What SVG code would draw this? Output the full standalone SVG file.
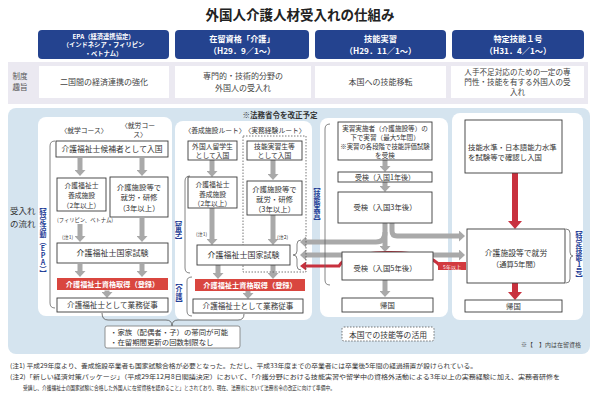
<svg xmlns="http://www.w3.org/2000/svg" width="600" height="400" viewBox="0 0 600 400">
<style>
text{font-family:"Noto Sans CJK JP","Noto Sans",sans-serif;fill:#333}
.hdr{fill:#24438f}
.ht{fill:#fff;font-weight:bold;text-anchor:middle}
.pbox{fill:#fff}
.box{fill:#fff;stroke:#3a3a3a;stroke-width:0.9}
.t{font-size:7.4px;text-anchor:middle}
.s{font-size:6.8px;text-anchor:middle}
.redbar{fill:#d9463f}
.rt{fill:#fff;font-weight:bold;font-size:7.2px;text-anchor:middle}
.ga{stroke:#a9a9a9;stroke-width:5;fill:none;marker-end:url(#gh)}
.ra{stroke:#c8313e;stroke-width:6;fill:none;marker-end:url(#rh)}
.ra2{stroke:#c8313e;stroke-width:3;fill:none;marker-end:url(#rh2)}
.br{stroke:#666;stroke-width:0.8;fill:none}
.vl{fill:#1e3d96;font-weight:bold;font-size:7px;writing-mode:tb;text-orientation:upright}
.note{font-size:6.2px}
</style>
<defs>
<marker id="gh" viewBox="0 0 6 11" markerWidth="6" markerHeight="11" refX="0" refY="5.5" orient="auto" markerUnits="userSpaceOnUse"><path d="M0,0 L6,5.5 L0,11 z" fill="#a9a9a9"/></marker>
<marker id="rh" viewBox="0 0 8 14" markerWidth="8" markerHeight="14" refX="0" refY="7" orient="auto" markerUnits="userSpaceOnUse"><path d="M0,0 L8,7 L0,14 z" fill="#c8313e"/></marker>
<marker id="rh2" viewBox="0 0 6 9" markerWidth="6" markerHeight="9" refX="0" refY="4.5" orient="auto" markerUnits="userSpaceOnUse"><path d="M0,0 L6,4.5 L0,9 z" fill="#c8313e"/></marker>
</defs>
<rect width="600" height="400" fill="#fff"/>
<text x="300" y="20" style="font-size:13.5px;font-weight:bold;text-anchor:middle;fill:#222">外国人介護人材受入れの仕組み</text>

<g id="hdr-epa"><rect class="hdr" x="38" y="30" width="131" height="29" rx="4"/>
<text class="ht" x="103.5" y="39" style="font-size:6.3px">EPA（経済連携協定）</text>
<text class="ht" x="103.5" y="47.3" style="font-size:6.3px">（インドネシア・フィリピン</text>
<text class="ht" x="103.5" y="55.6" style="font-size:6.3px">・ベトナム）</text></g>
<g id="hdr-kaigo"><rect class="hdr" x="175" y="30" width="134" height="29" rx="4"/>
<text class="ht" x="242" y="42" style="font-size:8.2px">在留資格「介護」</text>
<text class="ht" x="242" y="54" style="font-size:8.2px">（H29．9／1～）</text></g>
<g id="hdr-ginou"><rect class="hdr" x="315" y="30" width="131" height="29" rx="4"/>
<text class="ht" x="380.5" y="42" style="font-size:8.2px">技能実習</text>
<text class="ht" x="380.5" y="54" style="font-size:8.2px">（H29．11／1～）</text></g>
<g id="hdr-tokutei"><rect class="hdr" x="452" y="30" width="132" height="29" rx="4"/>
<text class="ht" x="518" y="42" style="font-size:8.2px">特定技能１号</text>
<text class="ht" x="518" y="54" style="font-size:8.2px">（H31．4／1～）</text></g>

<g id="purpose">
<rect x="8" y="62" width="580" height="42" fill="#ebe9f1"/>
<text x="20" y="79" style="font-size:7.5px;text-anchor:middle;fill:#555">制度</text>
<text x="20" y="90" style="font-size:7.5px;text-anchor:middle;fill:#555">趣旨</text>
<rect x="39" y="66" width="130" height="32" fill="#fff"/>
<rect x="175" y="66" width="136" height="32" fill="#fff"/>
<rect x="315" y="66" width="131" height="32" fill="#fff"/>
<rect x="451" y="66" width="133" height="32" fill="#fff"/>
<text x="104" y="85" style="font-size:8px;text-anchor:middle;fill:#444">二国間の経済連携の強化</text>
<text x="243" y="79" style="font-size:8px;text-anchor:middle;fill:#444">専門的・技術的分野の</text>
<text x="243" y="91" style="font-size:8px;text-anchor:middle;fill:#444">外国人の受入れ</text>
<text x="380.5" y="85" style="font-size:8px;text-anchor:middle;fill:#444">本国への技能移転</text>
<text x="517.5" y="75" style="font-size:7.6px;text-anchor:middle;fill:#444">人手不足対応のための一定の専</text>
<text x="517.5" y="85" style="font-size:7.6px;text-anchor:middle;fill:#444">門性・技能を有する外国人の受</text>
<text x="517.5" y="95" style="font-size:7.6px;text-anchor:middle;fill:#444">入れ</text>
</g>

<rect x="8" y="108" width="582" height="246" rx="8" fill="#d5e4ef"/>
<rect class="pbox" x="38" y="117" width="134" height="199" rx="8"/>
<rect class="pbox" x="175" y="121" width="137" height="199" rx="8"/>
<rect class="pbox" x="320" y="118" width="128" height="199" rx="8"/>
<rect class="pbox" x="452" y="113" width="131" height="207" rx="8"/>
<text x="10" y="214" style="font-size:8.5px">受入れ</text>
<text x="10" y="227" style="font-size:8.5px">の流れ</text>
<text x="280" y="118" style="font-size:7.5px;font-weight:bold;text-anchor:middle">※法務省令を改正予定</text>

<g id="connectors">
<path class="ga" d="M80,158 V170"/><path class="ga" d="M142,158 V170"/>
<path class="ga" d="M80,224 V236"/><path class="ga" d="M142,218 V236"/>
<path class="ga" d="M80,264 V271"/><path class="ga" d="M142,264 V271"/>
<path class="ga" d="M107,290.5 V292"/>
<path class="ga" d="M212,160 V171"/><path class="ga" d="M273,160 V174"/>
<path class="ga" d="M212,208 V239"/><path class="ga" d="M273,215 V239"/>
<path class="ga" d="M218,265 V273"/><path class="ga" d="M273,265 V273"/>
<path class="ga" d="M248,291 V293"/>
<path class="ga" d="M385,160 V166"/><path class="ga" d="M385,182 V186"/>
<path class="ga" d="M385,223 V246"/>
<path class="ga" d="M385,232 Q385,242 376,242 H306"/>
<path class="ga" d="M392,223 V231 Q392,236 397,236 H459"/>
<path class="ga" d="M342,255 H306"/>
<path class="ga" d="M433,255 H459"/>
<path class="ra2" d="M440,266 Q430,252 387,252.5 Q346,253 339,266 H306"/>
<path class="ga" d="M385,280 V291"/>
<path class="ra" d="M515,173 V221"/>
<path class="ra" d="M515,283 V292"/>
<path class="br" d="M55,141 Q50,141 50,146 V303 Q50,308 55,308"/>
<path class="br" d="M190,176 Q185,176 185,181 V268 Q185,273 190,273"/>
<path class="br" d="M192,277 Q187,277 187,281 V311 Q187,316 192,316"/>
<path class="br" d="M301,240 Q297,240 297,244 V251 Q297,255 293,255 Q297,255 297,259 V266 Q297,270 301,270"/>
<path class="br" d="M330,124 Q325,124 325,129 V280 Q325,285 330,285"/>
<path class="br" d="M566,229 Q570,229 570,233 V252 Q570,256 573,256 Q570,256 570,260 V279 Q570,283 566,283"/>
<path class="br" style="stroke:#555" d="M102,313 Q102,320 108,320 H166 Q172,320 172,326 Q172,320 178,320 H238 Q244,320 244,314"/>
</g>

<g id="epa">
<text class="s" x="84" y="133">〈就学コース〉</text>
<text class="s" x="138" y="128">〈就労コー</text>
<text class="s" x="140" y="137">ス〉</text>
<text class="vl" x="43" y="203">【特定活動（EPA）】</text>
</g>
<g id="epa-entry"><rect class="box" x="56" y="141" width="112" height="16"/><text class="t" x="112" y="152" style="font-size:7.8px">介護福祉士候補者として入国</text></g>
<g id="epa-school"><rect class="box" x="57" y="178" width="49" height="33"/>
<text class="s" x="81.5" y="188">介護福祉士</text><text class="s" x="81.5" y="198">養成施設</text><text class="s" x="81.5" y="208">（2年以上）</text></g>
<text x="57" y="222" style="font-size:5.3px">(フィリピン、ベトナム)</text>
<g id="epa-work"><rect class="box" x="110" y="177" width="58" height="40"/>
<text class="t" x="139" y="190">介護施設等で</text><text class="t" x="139" y="200">就労・研修</text><text class="t" x="139" y="211">（3年以上）</text></g>
<text x="62" y="239" style="font-size:5px">(注1)</text>
<g id="epa-exam"><rect class="box" x="57" y="243" width="111" height="20"/><text class="t" x="112.5" y="256" style="font-size:8px">介護福祉士国家試験</text></g>
<g id="epa-qual"><rect class="redbar" x="57" y="278" width="111" height="12"/><text class="rt" x="112.5" y="287">介護福祉士資格取得（登録）</text></g>
<g id="epa-job"><rect class="box" x="57" y="298" width="111" height="14"/><text class="t" x="112.5" y="308.3" style="font-size:7.6px">介護福祉士として業務従事</text></g>

<g id="kaigo">
<text class="s" x="215" y="133">〈養成施設ルート〉</text>
<text class="s" x="275" y="133">〈実務経験ルート〉</text>
<rect x="243" y="136" width="63" height="136" fill="none" stroke="#555" stroke-width="0.8" stroke-dasharray="1.5,1.5"/>
<text class="vl" x="178.5" y="216">【留学】</text>
<text class="vl" x="179" y="279">【介護】</text>
</g>
<g id="kaigo-entry1"><rect class="box" x="188" y="141" width="49" height="19"/>
<text class="s" x="212.5" y="148.6">外国人留学生</text><text class="s" x="212.5" y="157.6">として入国</text></g>
<g id="kaigo-entry2"><rect class="box" x="247" y="141" width="55" height="19"/>
<text class="s" x="274.5" y="148.6">技能実習生等</text><text class="s" x="274.5" y="157.6">として入国</text></g>
<g id="kaigo-school"><rect class="box" x="188" y="177" width="49" height="31"/>
<text class="s" x="212.5" y="187">介護福祉士</text><text class="s" x="212.5" y="196.5">養成施設</text><text class="s" x="212.5" y="206">（2年以上）</text></g>
<g id="kaigo-work"><rect class="box" x="247" y="181" width="55" height="34"/>
<text class="t" x="274.5" y="192">介護施設等で</text><text class="t" x="274.5" y="201.5">就労・研修</text><text class="t" x="274.5" y="211.5">（3年以上）</text></g>
<text x="196" y="236" style="font-size:5px">(注1)</text>
<text x="277" y="239" style="font-size:5px">(注2)</text>
<g id="kaigo-exam"><rect class="box" x="197" y="245" width="93" height="20"/><text class="t" x="243.5" y="258" style="font-size:8px">介護福祉士国家試験</text></g>
<g id="kaigo-qual"><rect class="redbar" x="195" y="279" width="110" height="12"/><text class="rt" x="250" y="288">介護福祉士資格取得（登録）</text></g>
<g id="kaigo-job"><rect class="box" x="193" y="299" width="110" height="14"/><text class="t" x="248" y="309.3" style="font-size:7.6px">介護福祉士として業務従事</text></g>

<g id="ginou"><text class="vl" x="317" y="183">【技能実習】</text></g>
<g id="ginou-main"><rect class="box" x="338" y="122" width="94" height="38"/>
<text class="s" x="385" y="131" style="font-size:6.6px">実習実施者（介護施設等）の</text>
<text class="s" x="385" y="140" style="font-size:6.6px">下で実習（最大5年間）</text>
<text class="s" x="385" y="149" style="font-size:6.4px">※実習の各段階で技能評価試験</text>
<text class="s" x="385" y="158" style="font-size:6.6px">を受検</text></g>
<g id="ginou-1y"><rect class="box" x="338" y="172" width="94" height="10"/><text class="t" x="385" y="179.8" style="font-size:7px">受検（入国1年後）</text></g>
<g id="ginou-3y"><rect class="box" x="338" y="192" width="94" height="31"/><text class="t" x="385" y="210">受検（入国3年後）</text></g>
<g id="ginou-5y"><rect class="box" x="342" y="252" width="91" height="28"/><text class="t" x="385" y="271">受検（入国5年後）</text></g>
<g id="red-tag"><rect x="438" y="262" width="28" height="8" fill="#d23a3f"/><text x="452" y="268.5" style="font-size:5px;fill:#fff;text-anchor:middle">5年以上</text></g>
<g id="ginou-home"><rect class="box" x="342" y="298" width="91" height="14"/><text class="t" x="387.5" y="308">帰国</text></g>
<g id="ginou-use"><rect x="342" y="327" width="92" height="14" rx="2" fill="#fff" stroke="#555" stroke-width="0.8" stroke-dasharray="1.5,1.5"/><text class="t" x="388" y="337.5" style="font-size:7.8px">本国での技能等の活用</text></g>

<g id="tokutei"><text class="vl" x="579" y="226">【特定技能1号】</text></g>
<g id="tokutei-entry"><rect class="box" x="465" y="120" width="97" height="53"/>
<text x="468" y="150" style="font-size:7.4px">技能水準・日本語能力水準</text>
<text x="468" y="160" style="font-size:7.4px">を試験等で確認し入国</text></g>
<g id="tokutei-work"><rect class="box" x="467" y="229" width="98" height="54"/>
<text class="t" x="516" y="256" style="font-size:7.8px">介護施設等で就労</text>
<text class="t" x="516" y="267">（通算5年間）</text></g>
<g id="tokutei-home"><rect class="box" x="465" y="300" width="97" height="12"/><text class="t" x="513.5" y="309">帰国</text></g>

<g id="family"><rect x="105" y="326" width="135" height="22" rx="2" fill="#fff" stroke="#777" stroke-width="0.8"/>
<text x="110" y="335" style="font-size:7.4px">・家族（配偶者・子）の帯同が可能</text>
<text x="110" y="345" style="font-size:7.4px">・在留期間更新の回数制限なし</text></g>
<text x="581" y="347" style="font-size:6px;text-anchor:end;fill:#444">※【　】内は在留資格</text>

<g id="notes">
<text class="note" x="10" y="368" textLength="467" lengthAdjust="spacingAndGlyphs">(注1) 平成29年度より、養成施設卒業者も国家試験合格が必要となった。ただし、平成33年度までの卒業者には卒業後5年間の経過措置が設けられている。</text>
<text class="note" x="10" y="379" textLength="550" lengthAdjust="spacingAndGlyphs">(注2)「新しい経済対策パッケージ」（平成29年12月8日閣議決定）において、「介護分野における技能実習や留学中の資格外活動による3年以上の実務経験に加え、実務者研修を</text>
<text class="note" x="23" y="390" textLength="312" lengthAdjust="spacingAndGlyphs">受講し、介護福祉士の国家試験に合格した外国人に在留資格を認めること」とされており、現在、法務省において法務省令の改正に向けて準備中。</text>
</g>
</svg>
